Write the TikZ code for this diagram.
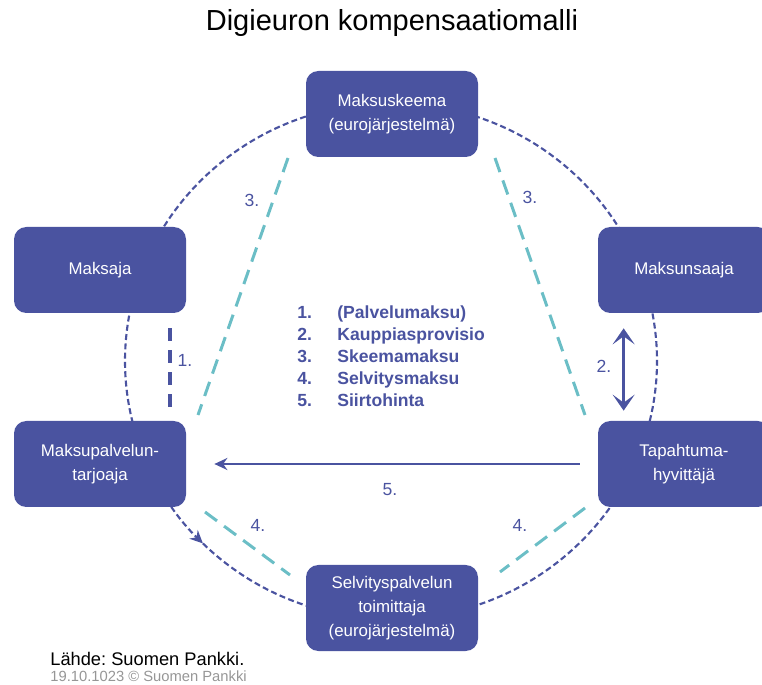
\documentclass[tikz,border=0pt]{standalone}
\usepackage{fontspec}
\setmainfont{Liberation Sans}
\usetikzlibrary{positioning,calc}
\usetikzlibrary{arrows.meta}
\definecolor{PankBlue}{RGB}{74,83,160}
\definecolor{FeeCyan}{RGB}{107,190,198}
\definecolor{NoteGray}{RGB}{150,150,150}
\frenchspacing
\tikzset{
  party/.style={fill=PankBlue,rounded corners=7pt,minimum width=3.44cm,minimum height=1.72cm,
    text=white,align=center,font=\fontsize{9.6}{13.5}\selectfont},
  ring/.style={draw=PankBlue,line width=1.2pt,dash pattern=on 3.4pt off 1.9pt},
  fee/.style={draw=FeeCyan,line width=1.7pt,dash pattern=on 8.5pt off 5pt},
  num/.style={text=PankBlue,font=\fontsize{10}{12}\selectfont},
}
\tikzset{legend/.style={text=PankBlue,font=\bfseries\fontsize{10}{12}\selectfont,anchor=base west,inner sep=0pt},
  flow/.style={draw=PankBlue,line width=1.2pt}}

\begin{document}
\begin{tikzpicture}
\useasboundingbox (0,0) rectangle (15.24,13.68);
\coordinate (ctr) at (7.82,6.46);
\draw[ring] ($(ctr)+(225:5.32 and 5.16)$) arc[start angle=225,end angle=560,x radius=5.32cm,y radius=5.16cm];
\draw[ring,-{Stealth[length=2.6mm,width=2.4mm]}] ($(ctr)+(200:5.32 and 5.16)$) arc[start angle=200,end angle=225,x radius=5.32cm,y radius=5.16cm];
\node[font=\fontsize{16.5}{20}\selectfont] (otsikko) at (7.84,13.22) {Digieuron kompensaatiomalli};
\node[party] (skeema) at (7.84,11.40) {Maksuskeema\\(eurojärjestelmä)};
\node[party] (maksaja) at (2.00,8.28) {Maksaja};
\node[party] (saaja) at (13.68,8.28) {Maksunsaaja};
\node[party] (hyvit) at (13.68,4.40) {Tapahtuma-\\hyvittäjä};
\node[party] (psp) at (2.00,4.40) {Maksupalvelun-\\tarjoaja};
\node[party] (selvitys) at (7.84,1.52) {Selvityspalvelun\\toimittaja\\(eurojärjestelmä)};
\coordinate (f3a) at (5.76,10.52);
\coordinate (t3a) at (3.96,5.38);
\coordinate (f3b) at (9.90,10.52);
\coordinate (t3b) at (11.70,5.38);
\coordinate (f4a) at (4.10,3.44);
\coordinate (t4a) at (5.80,2.18);
\coordinate (f4b) at (11.70,3.52);
\coordinate (t4b) at (10.00,2.24);
\draw[fee] (f3a) -- (t3a);
\draw[fee] (f3b) -- (t3b);
\draw[fee] (f4a) -- (t4a);
\draw[fee] (f4b) -- (t4b);
\draw[PankBlue,line width=1.9pt,dash pattern=on 7pt off 5.5pt,shorten <=0.3cm,shorten >=0.24cm]
  ([xshift=1.4cm]maksaja.south) -- ([xshift=1.4cm]psp.north);
\draw[PankBlue,line width=1.9pt,{Stealth[length=3.2mm,width=4.4mm,inset=1.6mm]}-{Stealth[length=3.2mm,width=4.4mm,inset=1.6mm]},
  shorten <=0.3cm,shorten >=0.2cm] ([xshift=0.52cm]saaja.south west) -- ([xshift=0.52cm]hyvit.north west);
\draw[flow,-{Stealth[length=2.6mm,width=2.4mm]},shorten <=0.36cm,shorten >=0.56cm] (hyvit.west) -- (psp.east);
\node[num] (n1) at (3.70,6.48) {1.};
\node[num] (n2) at (12.08,6.36) {2.};
\node[num] (n3a) at (5.04,9.68) {3.};
\node[num] (n3b) at (10.60,9.74) {3.};
\node[num] (n4a) at (5.16,3.18) {4.};
\node[num] (n4b) at (10.40,3.18) {4.};
\node[num] (n5) at (7.80,3.88) {5.};
\node[legend] (l1) at (5.94,7.31) {1.};
\node[legend] (l2) at (5.94,6.87) {2.};
\node[legend] (l3) at (5.94,6.43) {3.};
\node[legend] (l4) at (5.94,5.99) {4.};
\node[legend] (l5) at (5.94,5.55) {5.};
\node[legend] (m1) at (6.74,7.31) {(Palvelumaksu)};
\node[legend] (m2) at (6.74,6.87) {Kauppiasprovisio};
\node[legend] (m3) at (6.74,6.43) {Skeemamaksu};
\node[legend] (m4) at (6.74,5.99) {Selvitysmaksu};
\node[legend] (m5) at (6.74,5.55) {Siirtohinta};
\node[anchor=west,inner sep=0pt,font=\fontsize{10.4}{12}\selectfont] (lahde) at (1.00,0.50) {Lähde: Suomen Pankki.};
\node[anchor=west,inner sep=0pt,text=NoteGray,font=\fontsize{8.4}{10}\selectfont] (pvm) at (1.00,0.15) {19.10.1023 © Suomen Pankki};
\end{tikzpicture}
\end{document}
